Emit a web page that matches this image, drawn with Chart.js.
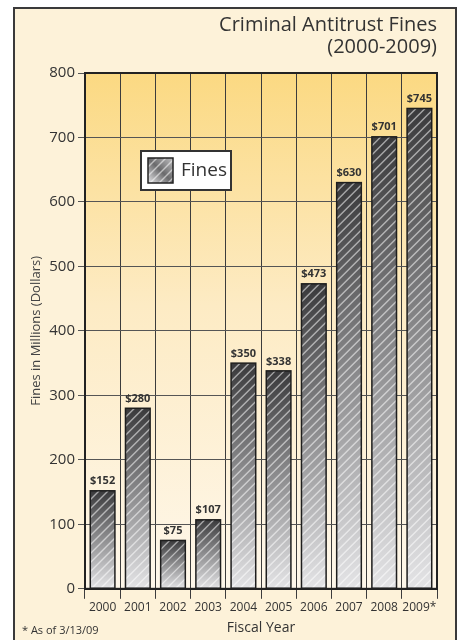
<!DOCTYPE html>
<html>
<head>
<meta charset="utf-8">
<script src="https://cdn.jsdelivr.net/npm/chart.js@4/dist/chart.umd.min.js"></script>
<style>
  html, body { margin: 0; padding: 0; background: #fff; }
  #wrap { width: 466px; height: 640px; }
</style>
</head>
<body>
<div id="wrap"><canvas id="fines"></canvas></div>
<script>
const years = ['2000', '2001', '2002', '2003', '2004', '2005', '2006', '2007', '2008', '2009*'];
const fines = [152, 280, 75, 107, 350, 338, 473, 630, 701, 745]; // millions of dollars
const yTicks = [0, 100, 200, 300, 400, 500, 600, 700, 800];
const titleLines = ['Criminal Antitrust Fines', '(2000-2009)'];
const footnote = '* As of 3/13/09';

const FONT = '"Open Sans", "Noto Sans", sans-serif';
const INK = '#333';

// dark top -> light bottom for each bar
function barFill(ctx) {
  const chart = ctx.chart;
  const area = chart.chartArea;
  if (!area || ctx.type !== 'data') return '#888';
  const y = chart.scales.y;
  const top = y.getPixelForValue(ctx.raw);
  const bottom = y.getPixelForValue(0);
  const g = chart.ctx.createLinearGradient(0, top, 0, bottom);
  g.addColorStop(0, '#3a3a3c');
  g.addColorStop(1, '#e4e4e6');
  return g;
}

function hatch(c, x, y, w, h) {
  c.save();
  c.beginPath();
  c.rect(x, y, w, h);
  c.clip();
  c.strokeStyle = 'rgba(255,255,255,0.55)';
  c.lineWidth = 1.4;
  for (let s = x - h; s < x + w + h; s += 9) {
    c.beginPath();
    c.moveTo(s, y + h);
    c.lineTo(s + h, y);
    c.stroke();
  }
  c.restore();
}

const panel = {
  id: 'panel',
  beforeDraw(chart) {
    const c = chart.ctx;
    const a = chart.chartArea;
    c.save();
    c.fillStyle = '#fdf2d9';
    c.fillRect(14, 8, 442, 640);
    c.strokeStyle = '#3a3a3a';
    c.lineWidth = 2;
    c.strokeRect(14, 8, 442, 640);
    const g = c.createLinearGradient(0, a.top, 0, a.bottom);
    g.addColorStop(0, '#fbd982');
    g.addColorStop(0.45, '#fdebc4');
    g.addColorStop(1, '#fef7ea');
    c.fillStyle = g;
    c.fillRect(a.left, a.top, a.right - a.left, a.bottom - a.top);
    c.restore();
  },
  afterDatasetsDraw(chart) {
    const c = chart.ctx;
    const meta = chart.getDatasetMeta(0);
    meta.data.forEach((bar, i) => {
      const w = bar.width;
      const x = bar.x - w / 2;
      const h = bar.base - bar.y;
      hatch(c, x, bar.y, w, h);
      c.save();
      c.strokeStyle = '#1e1e1e';
      c.lineWidth = 1.5;
      c.strokeRect(x, bar.y, w, h);
      c.fillStyle = INK;
      c.font = 'bold 11px ' + FONT;
      c.textAlign = 'center';
      c.textBaseline = 'bottom';
      c.fillText('$' + fines[i], bar.x, bar.y - 4);
      c.restore();
    });
  },
  afterDraw(chart) {
    const c = chart.ctx;
    const a = chart.chartArea;
    c.save();
    // plot frame
    c.strokeStyle = '#222';
    c.lineWidth = 2;
    c.strokeRect(a.left, a.top, a.right - a.left, a.bottom - a.top);

    // legend
    const lx = 141, ly = 151, lw = 90, lh = 39;
    c.fillStyle = '#fff';
    c.fillRect(lx, ly, lw, lh);
    c.strokeStyle = '#333';
    c.lineWidth = 2;
    c.strokeRect(lx, ly, lw, lh);
    const sx = 148, sy = 158, ss = 25;
    const sg = c.createLinearGradient(sx, sy + ss, sx + ss, sy);
    sg.addColorStop(0, '#e8e8ea');
    sg.addColorStop(0.5, '#6a6a6c');
    sg.addColorStop(1, '#bfbfc1');
    c.fillStyle = sg;
    c.fillRect(sx, sy, ss, ss);
    hatch(c, sx, sy, ss, ss);
    c.strokeStyle = '#222';
    c.lineWidth = 1.5;
    c.strokeRect(sx, sy, ss, ss);
    c.fillStyle = INK;
    c.font = '19px ' + FONT;
    c.textAlign = 'left';
    c.textBaseline = 'middle';
    c.fillText('Fines', 181, 171);

    // footnote
    c.font = '11px ' + FONT;
    c.textBaseline = 'alphabetic';
    c.fillText(footnote, 22, 634);
    c.restore();
  }
};

new Chart(document.getElementById('fines'), {
  type: 'bar',
  data: {
    labels: years,
    datasets: [{
      label: 'Fines',
      data: fines,
      backgroundColor: barFill,
      borderWidth: 0,
      barPercentage: 0.7,
      categoryPercentage: 1.0
    }]
  },
  options: {
    responsive: true,
    maintainAspectRatio: false,
    animation: false,
    layout: { padding: { left: 16, right: 29, top: 10, bottom: 4 } },
    plugins: {
      legend: { display: false },
      tooltip: { enabled: false },
      title: {
        display: true,
        text: titleLines,
        align: 'end',
        color: INK,
        font: { family: FONT, size: 20, weight: 'normal', lineHeight: 1.1 },
        padding: { top: 4, bottom: 15 }
      }
    },
    scales: {
      x: {
        grid: { color: '#3c3c3c', lineWidth: 1, tickLength: 10, offset: true },
        border: { color: '#222', width: 2 },
        ticks: { color: INK, font: { family: FONT, size: 12 }, padding: 2, maxRotation: 0, autoSkip: false },
        title: {
          display: true,
          text: 'Fiscal Year',
          color: INK,
          font: { family: FONT, size: 14 },
          padding: { top: 2, bottom: 0 }
        }
      },
      y: {
        min: 0,
        max: 800,
        afterBuildTicks(scale) { scale.ticks = yTicks.map(v => ({ value: v })); },
        afterFit(scale) { scale.width = 69; },
        grid: { color: '#555', lineWidth: 1, tickLength: 7 },
        border: { color: '#222', width: 2 },
        ticks: { color: INK, font: { family: FONT, size: 15 }, padding: 3 },
        title: {
          display: true,
          text: 'Fines in Millions (Dollars)',
          color: '#444',
          font: { family: FONT, size: 13 },
          padding: { top: 12, bottom: 0 }
        }
      }
    }
  },
  plugins: [panel]
});
</script>
</body>
</html>
